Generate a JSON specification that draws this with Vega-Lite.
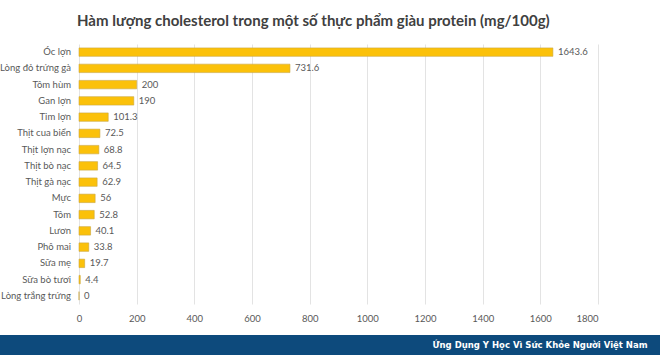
{
  "$schema": "https://vega.github.io/schema/vega-lite/v6.json",
  "padding": {"top": 14, "left": 0, "right": 0, "bottom": 0},
  "background": "white",
  "spacing": 12,
  "config": {"view": {"stroke": null}, "font": "Lato"},
  "vconcat": [
    {
      "width": 598,
      "height": 260,
      "title": {
        "text": "Hàm lượng cholesterol trong một số thực phẩm giàu protein (mg/100g)",
        "anchor": "start",
        "frame": "group",
        "font": "Lato",
        "fontSize": 15,
        "fontWeight": "bold",
        "color": "#404040",
        "offset": 15,
        "dx": 77
      },
      "data": {
        "values": [
          {"food": "Óc lợn", "value": 1643.6},
          {"food": "Lòng đỏ trứng gà", "value": 731.6},
          {"food": "Tôm hùm", "value": 200},
          {"food": "Gan lợn", "value": 190},
          {"food": "Tim lợn", "value": 101.3},
          {"food": "Thịt cua biển", "value": 72.5},
          {"food": "Thịt lợn nạc", "value": 68.8},
          {"food": "Thịt bò nạc", "value": 64.5},
          {"food": "Thịt gà nạc", "value": 62.9},
          {"food": "Mực", "value": 56},
          {"food": "Tôm", "value": 52.8},
          {"food": "Lươn", "value": 40.1},
          {"food": "Phô mai", "value": 33.8},
          {"food": "Sữa mẹ", "value": 19.7},
          {"food": "Sữa bò tươi", "value": 4.4},
          {"food": "Lòng trắng trứng", "value": 0}
        ]
      },
      "encoding": {
        "y": {
          "field": "food",
          "type": "nominal",
          "sort": null,
          "scale": {"paddingInner": 0.48, "paddingOuter": 0.24},
          "axis": null
        }
      },
      "layer": [
        {
          "mark": {"type": "bar", "color": "#FBC10A", "stroke": "#c9a640", "strokeWidth": 0.6},
          "encoding": {
            "x": {
              "field": "value",
              "type": "quantitative",
              "scale": {"domain": [-274, 1800], "nice": false, "zero": false},
              "axis": {
                "title": null,
                "values": [0, 200, 400, 600, 800, 1000, 1200, 1400, 1600, 1800],
                "format": "d",
                "ticks": false,
                "domain": false,
                "grid": true,
                "gridColor": "#e3e3e3",
                "labelFont": "Lato",
                "labelFontSize": 9.5,
                "labelColor": "#595959",
                "labelPadding": 9
              }
            },
            "x2": {"datum": 0}
          }
        },
        {
          "mark": {"type": "text", "align": "left", "baseline": "middle", "dx": 5, "font": "Lato", "fontSize": 9.5, "color": "#595959"},
          "encoding": {
            "x": {"field": "value", "type": "quantitative"},
            "text": {"field": "value", "type": "quantitative", "format": ".1~f"}
          }
        },
        {
          "mark": {"type": "text", "align": "right", "baseline": "middle", "dx": -8, "font": "Lato", "fontSize": 9.5, "color": "#595959"},
          "encoding": {
            "x": {"datum": 0},
            "text": {"field": "food", "type": "nominal"}
          }
        }
      ]
    },
    {
      "width": 660,
      "height": 20,
      "data": {"values": [{"label": "Ứng Dụng Y Học Vì Sức Khỏe Người Việt Nam"}]},
      "layer": [
        {"mark": {"type": "rect", "color": "#0D4A7C"}, "encoding": {}},
        {
          "mark": {"type": "text", "align": "center", "baseline": "middle", "dx": 210, "font": "DejaVu Sans", "fontWeight": "bold", "fontSize": 8.5, "color": "white"},
          "encoding": {"text": {"field": "label", "type": "nominal"}}
        }
      ]
    }
  ]
}
